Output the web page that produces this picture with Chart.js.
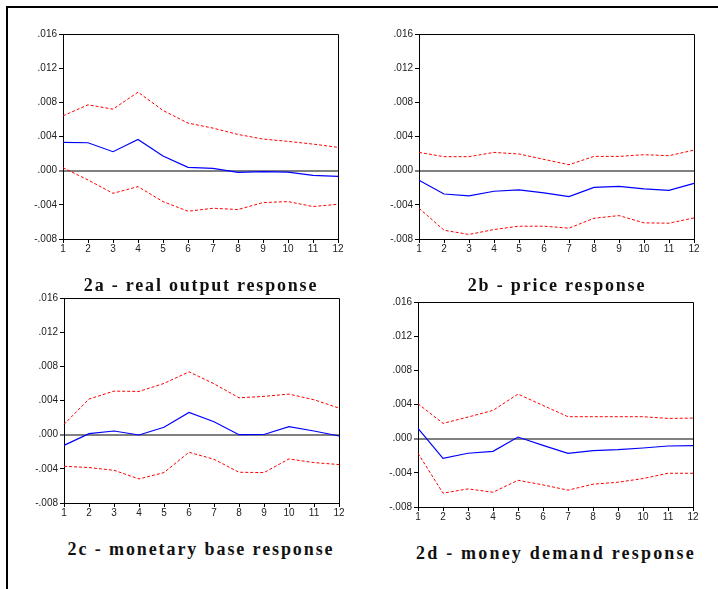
<!DOCTYPE html>
<html>
<head>
<meta charset="utf-8">
<script src="https://cdn.jsdelivr.net/npm/chart.js@4.4.1/dist/chart.umd.min.js"></script>
<style>
  body { margin: 0; background: #fff; width: 718px; height: 589px; overflow: hidden; position: relative; }
  #frame { position: absolute; left: 6px; top: 6px; width: 730px; height: 600px; border-left: 2px solid #000; border-top: 2px solid #000; }
  .box { position: absolute; width: 340px; height: 250px; }
  .ttl { position: absolute; font-family: "Liberation Serif", serif; font-weight: bold; font-size: 18px; color: #111; white-space: nowrap; transform: translate(-50%, -50%); }
</style>
</head>
<body>
<div id="frame"></div>
<div class="box" style="left:10px; top:24px;"><canvas id="c2a"></canvas></div>
<div class="box" style="left:366px; top:24px;"><canvas id="c2b"></canvas></div>
<div class="box" style="left:11px; top:288px;"><canvas id="c2c"></canvas></div>
<div class="box" style="left:365px; top:292px;"><canvas id="c2d"></canvas></div>
<div class="ttl" style="left:201px; top:285px; letter-spacing:1.8px;">2a - real output response</div>
<div class="ttl" style="left:557px; top:285px; letter-spacing:1.8px;">2b - price response</div>
<div class="ttl" style="left:201px; top:549px; letter-spacing:1.9px;">2c - monetary base response</div>
<div class="ttl" style="left:556px; top:553px; letter-spacing:2.2px;">2d - money demand response</div>
<script>
// horizon (periods)
var periods = ["1", "2", "3", "4", "5", "6", "7", "8", "9", "10", "11", "12"];
var yTicks = [-0.008, -0.004, 0, 0.004, 0.008, 0.012, 0.016];

// 2a - real output
var output_mid = [0.00331, 0.00327, 0.00222, 0.00366, 0.00171, 0.00039, 0.00027, -0.00019, -0.00012, -0.00016, -0.00055, -0.00066];
var output_hi = [0.00642, 0.00771, 0.0072, 0.00919, 0.00705, 0.00557, 0.00498, 0.00424, 0.0037, 0.00343, 0.00311, 0.00273];
var output_lo = [0.00035, -0.00109, -0.00265, -0.00187, -0.00362, -0.00475, -0.0044, -0.00455, -0.00374, -0.00362, -0.0042, -0.00393];

// 2b - price
var price_mid = [-0.00113, -0.00273, -0.00296, -0.00241, -0.00226, -0.00261, -0.00304, -0.00195, -0.00183, -0.00214, -0.0023, -0.00148];
var price_hi = [0.00214, 0.00164, 0.00164, 0.00214, 0.00195, 0.00132, 0.0007, 0.00167, 0.00167, 0.00187, 0.00175, 0.00241];
var price_lo = [-0.0044, -0.00697, -0.00747, -0.00689, -0.0065, -0.0065, -0.00673, -0.00557, -0.00526, -0.00611, -0.00615, -0.00553];

// 2c - monetary base
var base_mid = [-0.00125, 0.00012, 0.00043, -0.00004, 0.00086, 0.00261, 0.00152, 0.0, 0.00002, 0.00093, 0.00043, -0.00016];
var base_hi = [0.00121, 0.00417, 0.0051, 0.00506, 0.006, 0.00736, 0.00596, 0.00432, 0.00448, 0.00475, 0.00409, 0.00311];
var base_lo = [-0.0037, -0.00385, -0.00417, -0.00518, -0.00444, -0.00206, -0.00288, -0.0044, -0.00444, -0.00284, -0.00327, -0.0035];

// 2d - money demand
var demand_mid = [0.00121, -0.0023, -0.00171, -0.00148, 0.00019, -0.00078, -0.00171, -0.0014, -0.00128, -0.00109, -0.00086, -0.00082];
var demand_hi = [0.00409, 0.00179, 0.00253, 0.00331, 0.00522, 0.00389, 0.00257, 0.00257, 0.00257, 0.00257, 0.00237, 0.00241];
var demand_lo = [-0.00171, -0.00638, -0.00588, -0.00627, -0.00487, -0.00541, -0.00603, -0.00533, -0.0051, -0.00467, -0.00405, -0.00405];

// draws the top and right sides of the plot box
var boxPlugin = {
    id: 'box',
    afterDraw: function(chart) {
        var a = chart.chartArea, ctx = chart.ctx;
        ctx.save();
        ctx.strokeStyle = '#000';
        ctx.lineWidth = 1;
        ctx.beginPath();
        ctx.moveTo(a.left, a.top + 0.5);
        ctx.lineTo(a.right + 0.5, a.top + 0.5);
        ctx.lineTo(a.right + 0.5, a.bottom);
        ctx.stroke();
        ctx.restore();
    }
};

function fmt(v) {
    var s = (Math.round(v * 1000) / 1000).toFixed(3);
    return s.replace('0.', '.');
}

function makeChart(id, mid, hi, lo) {
    var tickFont = { family: "'Liberation Sans', Arial, sans-serif", size: 10 };
    return new Chart(document.getElementById(id), {
        type: 'line',
        data: {
            labels: periods,
            datasets: [
                { data: hi, borderColor: '#ff0000', borderWidth: 1, borderDash: [3, 2], pointRadius: 0, tension: 0 },
                { data: mid, borderColor: '#0000ff', borderWidth: 1.2, pointRadius: 0, tension: 0 },
                { data: lo, borderColor: '#ff0000', borderWidth: 1, borderDash: [3, 2], pointRadius: 0, tension: 0 }
            ]
        },
        options: {
            responsive: false,
            animation: false,
            layout: { padding: { top: 10, right: 12, bottom: 15, left: 0 } },
            plugins: { legend: { display: false }, tooltip: { enabled: false } },
            scales: {
                x: {
                    offset: false,
                    grid: { drawOnChartArea: false, tickLength: 4, color: '#000', tickColor: '#000' },
                    border: { color: '#000', width: 1 },
                    ticks: { color: '#222', font: tickFont, padding: 0, maxRotation: 0, autoSkip: false },
                    afterFit: function(s) { s.height = 20; }
                },
                y: {
                    min: -0.008,
                    max: 0.016,
                    afterBuildTicks: function(s) { s.ticks = yTicks.map(function(v) { return { value: v }; }); },
                    grid: {
                        color: function(c) { return c.tick && c.tick.value === 0 ? '#808080' : 'rgba(0,0,0,0)'; },
                        lineWidth: function(c) { return c.tick && c.tick.value === 0 ? 2 : 1; },
                        tickColor: '#000',
                        tickWidth: 1,
                        tickLength: 4
                    },
                    border: { color: '#000', width: 1 },
                    ticks: { color: '#222', font: tickFont, padding: 2, callback: function(v) { return fmt(v); } },
                    afterFit: function(s) { s.width = 53; }
                }
            }
        },
        plugins: [boxPlugin]
    });
}

['c2a', 'c2b', 'c2c', 'c2d'].forEach(function(id) {
    var cv = document.getElementById(id);
    cv.width = 340; cv.height = 250;
    cv.style.width = '340px'; cv.style.height = '250px';
});

makeChart('c2a', output_mid, output_hi, output_lo);
makeChart('c2b', price_mid, price_hi, price_lo);
makeChart('c2c', base_mid, base_hi, base_lo);
makeChart('c2d', demand_mid, demand_hi, demand_lo);
</script>
</body>
</html>
